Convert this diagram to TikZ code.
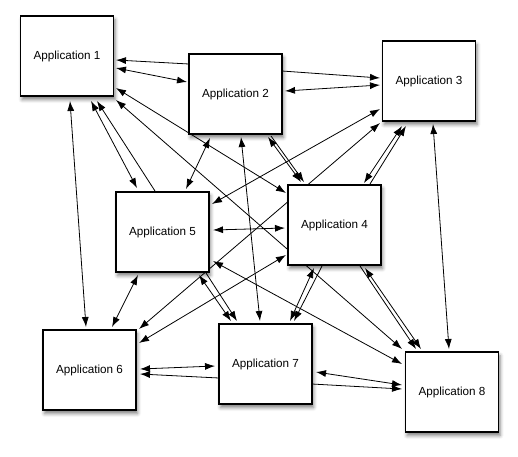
\documentclass[tikz,border=0pt]{standalone}
\usepackage{fontspec}
\setmainfont{Liberation Sans}
\usetikzlibrary{arrows.meta,shadows.blur}
\pgfdeclarelayer{bg}
\pgfsetlayers{bg,main}
\begin{document}
\begin{tikzpicture}[x=1pt,y=-1pt,
  app/.style={draw,fill=white,line width=1.1pt,minimum width=93pt,minimum height=80pt,
    inner sep=0pt,outer sep=0pt,font=\fontsize{11.7}{14}\selectfont,
    blur shadow={shadow xshift=1.5pt,shadow yshift=-3.5pt,shadow blur radius=3.5pt,shadow opacity=50}},
  con/.style={line width=0.8pt,-{Latex[length=10pt,width=7pt]}},
  dbl/.style={line width=0.8pt,{Latex[length=10pt,width=7pt]}-{Latex[length=10pt,width=7pt]}}]
\useasboundingbox (0,0) rectangle (518,456);
\node[app] (a1) at (67,56) {Application 1};
\node[app] (a2) at (235.5,94) {Application 2};
\node[app] (a3) at (429,81) {Application 3};
\node[app] (a4) at (334.5,225) {Application 4};
\node[app] (a5) at (162.5,232) {Application 5};
\node[app] (a6) at (89.5,370) {Application 6};
\node[app] (a7) at (265.5,364) {Application 7};
\node[app] (a8) at (452,392) {Application 8};
\begin{pgfonlayer}{bg}
% App1
\draw[con] ([shift={(-46.5,-30)}]a2.center) -- ([shift={(49,4)}]a1.center);
\draw[dbl] ([shift={(49,12)}]a1.center) -- ([shift={(-48.5,-12)}]a2.center);
\draw[dbl] ([shift={(49,32)}]a1.center) -- ([shift={(-48.5,-32)}]a4.center);
\draw[dbl] ([shift={(49,44)}]a1.center) -- ([shift={(-50,-43)}]a8.center);
\draw[dbl] ([shift={(3,45)}]a1.center) -- ([shift={(-3.5,-43)}]a6.center);
\draw[dbl] ([shift={(24,45)}]a1.center) -- ([shift={(-25.5,-44)}]a5.center);
\draw[con] ([shift={(-7.5,-41)}]a5.center) -- ([shift={(30,45)}]a1.center);
% App2
\draw[dbl] ([shift={(-25.5,44)}]a2.center) -- ([shift={(23.5,-43)}]a5.center);
\draw[dbl] ([shift={(5.5,43)}]a2.center) -- ([shift={(-5.5,-43)}]a7.center);
\draw[dbl] ([shift={(32.5,43)}]a2.center) -- ([shift={(-33.5,-43)}]a4.center);
\draw[con] ([shift={(35.5,42)}]a2.center) -- ([shift={(-30.5,-43)}]a4.center);
\draw[con] ([shift={(46.5,-23)}]a2.center) -- ([shift={(-49,-3)}]a3.center);
\draw[dbl] ([shift={(49.5,-3)}]a2.center) -- ([shift={(-49,4)}]a3.center);
% App3
\draw[dbl] ([shift={(-49,28)}]a3.center) -- ([shift={(49.5,-28)}]a5.center);
\draw[dbl] ([shift={(-49,42)}]a3.center) -- ([shift={(49.5,-41)}]a6.center);
\draw[dbl] ([shift={(-27,45)}]a3.center) -- ([shift={(29.5,-42)}]a4.center);
\draw[con] ([shift={(35.5,-41)}]a4.center) -- ([shift={(-23,45)}]a3.center);
\draw[dbl] ([shift={(4,43)}]a3.center) -- ([shift={(-3,-43)}]a8.center);
% App5
\draw[dbl] ([shift={(50.5,-2)}]a5.center) -- ([shift={(-49.5,3)}]a4.center);
\draw[dbl] ([shift={(50.5,29)}]a5.center) -- ([shift={(-50,-28)}]a8.center);
\draw[dbl] ([shift={(-24.5,43)}]a5.center) -- ([shift={(22.5,-43)}]a6.center);
\draw[dbl] ([shift={(36.5,43)}]a5.center) -- ([shift={(-34.5,-43)}]a7.center);
\draw[con] ([shift={(43.5,41)}]a5.center) -- ([shift={(-28.5,-43)}]a7.center);
% App6
\draw[dbl] ([shift={(49.5,-27)}]a6.center) -- ([shift={(-48.5,30)}]a4.center);
\draw[dbl] ([shift={(50.5,-1)}]a6.center) -- ([shift={(-50.5,2)}]a7.center);
\draw[con] ([shift={(-46.5,14)}]a7.center) -- ([shift={(50.5,4)}]a6.center);
% App7
\draw[dbl] ([shift={(50.5,8)}]a7.center) -- ([shift={(-50,-7)}]a8.center);
\draw[con] ([shift={(46.5,20)}]a7.center) -- ([shift={(-50,-3)}]a8.center);
% App4
\draw[dbl] ([shift={(-20.5,43)}]a4.center) -- ([shift={(24.5,-43)}]a7.center);
\draw[con] ([shift={(-12.5,41)}]a4.center) -- ([shift={(28.5,-43)}]a7.center);
\draw[dbl] ([shift={(30.5,43)}]a4.center) -- ([shift={(-31,-43)}]a8.center);
\draw[con] ([shift={(25.5,41)}]a4.center) -- ([shift={(-36,-43)}]a8.center);
\end{pgfonlayer}
\end{tikzpicture}
\end{document}
